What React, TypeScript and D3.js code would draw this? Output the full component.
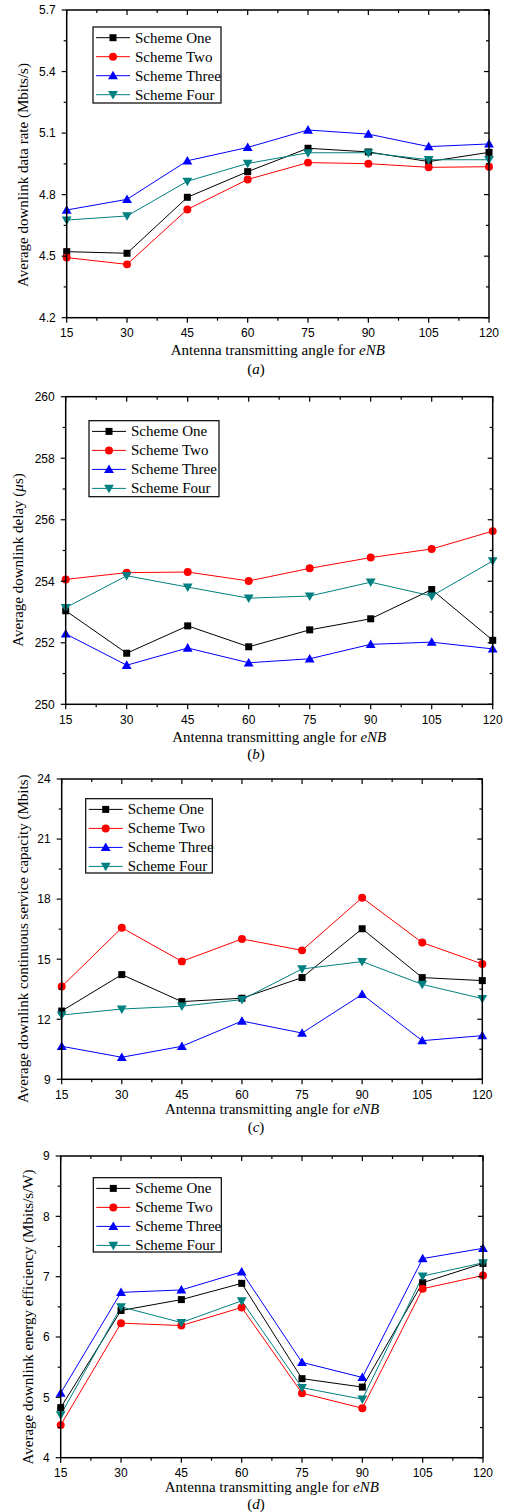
import React from "react";
import * as d3 from "d3";

// ---------- DATA ----------
const angles = [15, 30, 45, 60, 75, 90, 105, 120];
const schemeNames = ["Scheme One", "Scheme Two", "Scheme Three", "Scheme Four"];
const schemeColors = ["#000000", "#ff0000", "#0000ff", "#008080"];

// (a) Average downlink data rate (Mbits/s)
const rateOne = [4.522, 4.514, 4.787, 4.912, 5.026, 5.008, 4.961, 5.006];
const rateTwo = [4.493, 4.46, 4.728, 4.874, 4.956, 4.951, 4.933, 4.936];
const rateThree = [4.725, 4.777, 4.965, 5.03, 5.115, 5.095, 5.034, 5.047];
const rateFour = [4.676, 4.696, 4.865, 4.952, 5.004, 5.004, 4.97, 4.97];
const rateTicks = [4.2, 4.5, 4.8, 5.1, 5.4, 5.7];

// (b) Average downlink delay (μs)
const delayOne = [253.04, 251.66, 252.55, 251.87, 252.42, 252.78, 253.73, 252.08];
const delayTwo = [254.06, 254.28, 254.3, 254.01, 254.42, 254.77, 255.05, 255.63];
const delayThree = [252.29, 251.27, 251.83, 251.35, 251.48, 251.95, 252.02, 251.8];
const delayFour = [253.14, 254.18, 253.81, 253.45, 253.52, 253.97, 253.52, 254.66];
const delayTicks = [250, 252, 254, 256, 258, 260];

// (c) Average downlink continuous service capacity (Mbits)
const capOne = [12.41, 14.23, 12.88, 13.05, 14.08, 16.52, 14.08, 13.93];
const capTwo = [13.63, 16.57, 14.89, 16.01, 15.44, 18.07, 15.83, 14.76];
const capThree = [10.65, 10.1, 10.65, 11.91, 11.31, 13.24, 10.93, 11.18];
const capFour = [12.21, 12.51, 12.65, 12.98, 14.51, 14.88, 13.74, 13.03];
const capTicks = [9, 12, 15, 18, 21, 24];

// (d) Average downlink energy efficiency (Mbits/s/W)
const effOne = [4.83, 6.44, 6.62, 6.89, 5.31, 5.17, 6.9, 7.22];
const effTwo = [4.54, 6.23, 6.19, 6.49, 5.07, 4.82, 6.8, 7.02];
const effThree = [5.07, 6.74, 6.78, 7.08, 5.58, 5.33, 7.3, 7.47];
const effFour = [4.71, 6.5, 6.24, 6.6, 5.16, 4.97, 7.01, 7.23];
const effTicks = [4, 5, 6, 7, 8, 9];

// ---------- LAYOUT ----------
const SERIF = "'Liberation Serif', 'Times New Roman', serif";
const SANS = "'Liberation Sans', Arial, sans-serif";

type Panel = {
  series: number[][];
  yTicks: number[];
  fmt: (v: number) => string;
  yTitle: React.ReactNode;
  caption: string;
  box: { l: number; r: number; t: number; b: number };
  yTitleX: number;
  yTitleY: number;
  xTitleY: number;
  captionY: number;
  legend: { x: number; y: number; w: number; h: number };
};

const panels: Panel[] = [
  {
    series: [rateOne, rateTwo, rateThree, rateFour],
    yTicks: rateTicks,
    fmt: d3.format(".1f"),
    yTitle: <tspan>Average downlink data rate (Mbits/s)</tspan>,
    caption: "a",
    box: { l: 66.7, r: 489, t: 10, b: 317.7 },
    yTitleX: 23,
    yTitleY: 175,
    xTitleY: 355,
    captionY: 374,
    legend: { x: 93, y: 27, w: 128, h: 76 },
  },
  {
    series: [delayOne, delayTwo, delayThree, delayFour],
    yTicks: delayTicks,
    fmt: d3.format("d"),
    yTitle: (
      <>
        <tspan>Average downlink delay (</tspan>
        <tspan fontStyle="italic">μ</tspan>
        <tspan>s)</tspan>
      </>
    ),
    caption: "b",
    box: { l: 65.7, r: 492.7, t: 396.7, b: 704.3 },
    yTitleX: 18,
    yTitleY: 560,
    xTitleY: 742,
    captionY: 759,
    legend: { x: 89, y: 420.7, w: 130, h: 76 },
  },
  {
    series: [capOne, capTwo, capThree, capFour],
    yTicks: capTicks,
    fmt: d3.format("d"),
    yTitle: <tspan>Average downlink continuous service capacity (Mbits)</tspan>,
    caption: "c",
    box: { l: 61.7, r: 482.3, t: 779, b: 1079.3 },
    yTitleX: 23,
    yTitleY: 938.7,
    xTitleY: 1114,
    captionY: 1132,
    legend: { x: 85.7, y: 798.7, w: 126.6, h: 74.3 },
  },
  {
    series: [effOne, effTwo, effThree, effFour],
    yTicks: effTicks,
    fmt: d3.format("d"),
    yTitle: <tspan>Average downlink energy efficiency (Mbits/s/W)</tspan>,
    caption: "d",
    box: { l: 60.7, r: 483, t: 1156, b: 1457.7 },
    yTitleX: 28,
    yTitleY: 1317,
    xTitleY: 1492,
    captionY: 1509,
    legend: { x: 93.3, y: 1177.7, w: 128, h: 74.3 },
  },
];

const symbolTypes = [d3.symbolSquare, d3.symbolCircle, d3.symbolTriangle, d3.symbolTriangle];
const symbolSizes = [49, 50, 42, 42];

function Marker({ i, x, y }: { i: number; x: number; y: number }) {
  const path = d3.symbol().type(symbolTypes[i]).size(symbolSizes[i])() || "";
  const rot = i === 3 ? 180 : 0;
  const dy = i === 2 ? 0.8 : i === 3 ? -0.8 : 0;
  return (
    <path
      d={path}
      transform={`translate(${x},${y + dy}) rotate(${rot})`}
      fill={schemeColors[i]}
      stroke="none"
    />
  );
}

function PanelChart({ p }: { p: Panel }) {
  const { box } = p;
  const x = d3.scaleLinear().domain([angles[0], angles[angles.length - 1]]).range([box.l, box.r]);
  const yMin = p.yTicks[0];
  const yMax = p.yTicks[p.yTicks.length - 1];
  const y = d3.scaleLinear().domain([yMin, yMax]).range([box.b, box.t]);
  const line = d3
    .line<number>()
    .x((_, k) => x(angles[k]))
    .y((v) => y(v));

  const step = (yMax - yMin) / (p.yTicks.length - 1);
  const yMinor = p.yTicks.slice(0, -1).map((t) => t + step / 2);
  const xStep = angles[1] - angles[0];
  const xMinor = angles.slice(0, -1).map((a) => a + xStep / 2);
  const major = 5;
  const minor = 3;
  const cx = (box.l + box.r) / 2;

  return (
    <g>
      {p.series.map((s, i) => (
        <path key={"l" + i} d={line(s) || ""} fill="none" stroke={schemeColors[i]} strokeWidth={1} />
      ))}
      {p.series.map((s, i) =>
        s.map((v, k) => <Marker key={`m${i}-${k}`} i={i} x={x(angles[k])} y={y(v)} />)
      )}
      <rect
        x={box.l}
        y={box.t}
        width={box.r - box.l}
        height={box.b - box.t}
        fill="none"
        stroke="#000"
        strokeWidth={1.5}
      />
      {angles.map((a) => (
        <g key={"xt" + a}>
          <line x1={x(a)} x2={x(a)} y1={box.b} y2={box.b + major} stroke="#000" strokeWidth={1.2} />
          <line x1={x(a)} x2={x(a)} y1={box.t} y2={box.t + major} stroke="#000" strokeWidth={1.2} />
          <text
            x={x(a)}
            y={box.b + 19.5}
            textAnchor="middle"
            fontFamily={SANS}
            fontSize={12}
            fill="#000"
          >
            {a}
          </text>
        </g>
      ))}
      {xMinor.map((a) => (
        <g key={"xm" + a}>
          <line x1={x(a)} x2={x(a)} y1={box.b} y2={box.b + minor} stroke="#000" strokeWidth={1.2} />
          <line x1={x(a)} x2={x(a)} y1={box.t} y2={box.t + minor} stroke="#000" strokeWidth={1.2} />
        </g>
      ))}
      {p.yTicks.map((t) => (
        <g key={"yt" + t}>
          <line x1={box.l - major} x2={box.l} y1={y(t)} y2={y(t)} stroke="#000" strokeWidth={1.2} />
          <line x1={box.r - major} x2={box.r} y1={y(t)} y2={y(t)} stroke="#000" strokeWidth={1.2} />
          <text
            x={box.l - 11}
            y={y(t)}
            dy="0.36em"
            textAnchor="end"
            fontFamily={SANS}
            fontSize={12}
            fill="#000"
          >
            {p.fmt(t)}
          </text>
        </g>
      ))}
      {yMinor.map((t) => (
        <g key={"ym" + t}>
          <line x1={box.l - minor} x2={box.l} y1={y(t)} y2={y(t)} stroke="#000" strokeWidth={1.2} />
          <line x1={box.r - minor} x2={box.r} y1={y(t)} y2={y(t)} stroke="#000" strokeWidth={1.2} />
        </g>
      ))}
      <text
        x={cx}
        y={p.xTitleY}
        textAnchor="middle"
        fontFamily={SERIF}
        fontSize={15}
        fill="#000"
      >
        Antenna transmitting angle for <tspan fontStyle="italic">eNB</tspan>
      </text>
      <text
        transform={`translate(${p.yTitleX},${p.yTitleY}) rotate(-90)`}
        dy="0.35em"
        textAnchor="middle"
        fontFamily={SERIF}
        fontSize={15}
        fill="#000"
      >
        {p.yTitle}
      </text>
      <text x={256} y={p.captionY} textAnchor="middle" fontFamily={SERIF} fontSize={15} fill="#000">
        (<tspan fontStyle="italic">{p.caption}</tspan>)
      </text>
      <g>
        <rect
          x={p.legend.x}
          y={p.legend.y}
          width={p.legend.w}
          height={p.legend.h}
          fill="#fff"
          stroke="#000"
          strokeWidth={1.2}
        />
        {schemeNames.map((name, i) => {
          const ry = p.legend.y + 10.7 + i * 19;
          return (
            <g key={"lg" + i}>
              <line
                x1={p.legend.x + 3}
                x2={p.legend.x + 37}
                y1={ry}
                y2={ry}
                stroke={schemeColors[i]}
                strokeWidth={1}
              />
              <Marker i={i} x={p.legend.x + 20} y={ry} />
              <text
                x={p.legend.x + 42}
                y={ry}
                dy="0.33em"
                fontFamily={SERIF}
                fontSize={15}
                fill="#000"
              >
                {name}
              </text>
            </g>
          );
        })}
      </g>
    </g>
  );
}

export default function App() {
  return (
    <svg
      width={509}
      height={1512}
      viewBox="0 0 509 1512"
      style={{ position: "absolute", left: 0, top: 0, background: "#fff" }}
    >
      <rect x={0} y={0} width={509} height={1512} fill="#fff" />
      {panels.map((p, i) => (
        <PanelChart key={i} p={p} />
      ))}
    </svg>
  );
}
